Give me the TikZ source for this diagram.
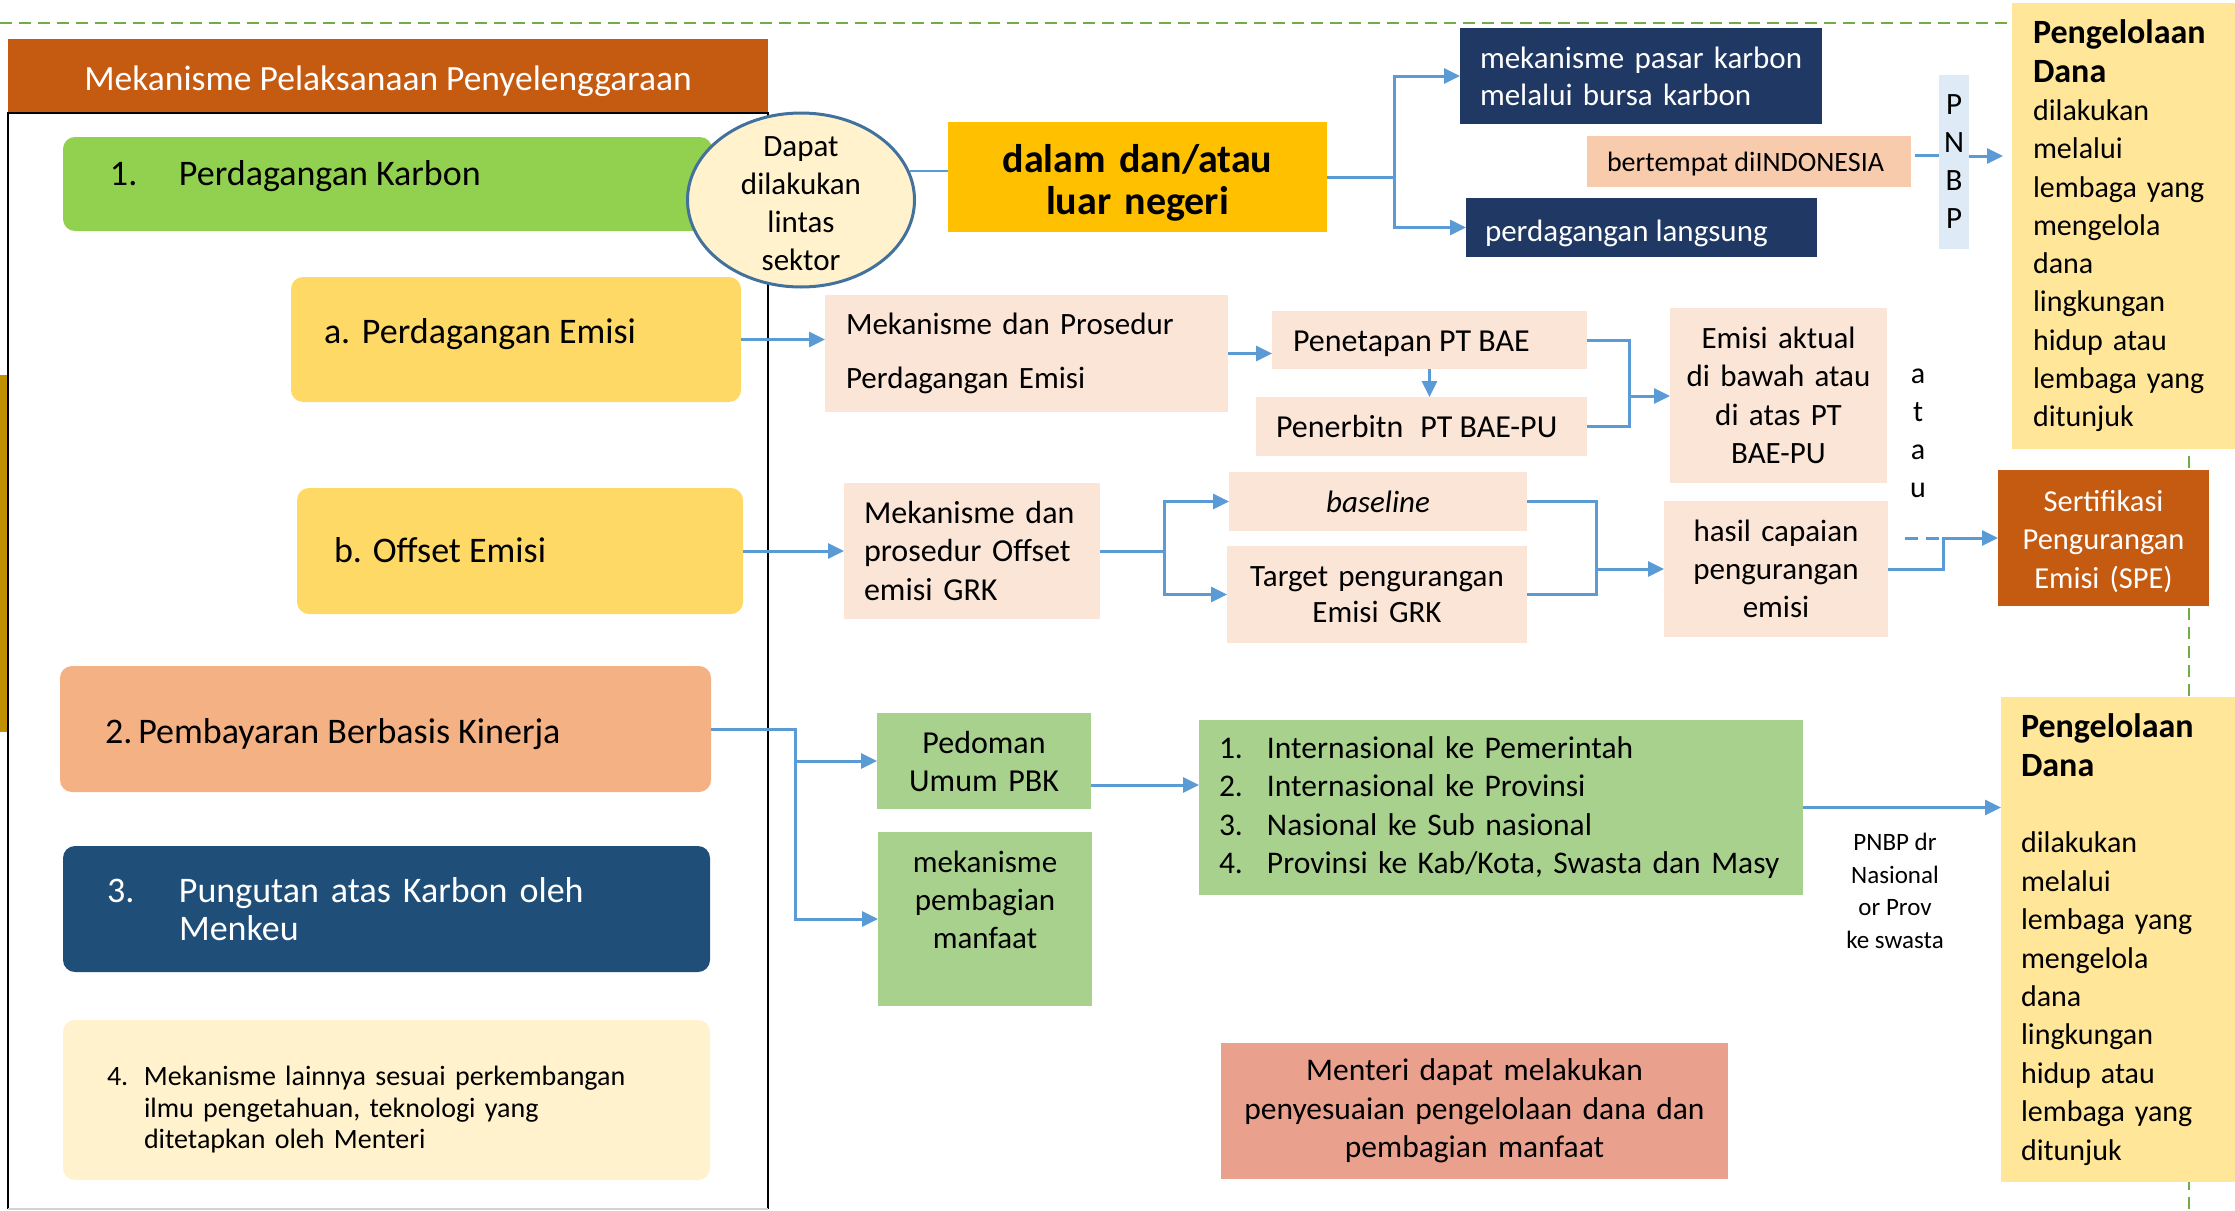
\documentclass[tikz,border=0pt]{standalone}
\usepackage{fontspec}
\setmainfont{Carlito}
\usetikzlibrary{arrows.meta,shapes.geometric}
\definecolor{hdrc}{HTML}{C55A11}
\definecolor{kagreen}{HTML}{92D050}
\definecolor{yelc}{HTML}{FFD966}
\definecolor{ktwoc}{HTML}{F4B183}
\definecolor{kthreec}{HTML}{1F4E79}
\definecolor{creamc}{HTML}{FFF2CC}
\definecolor{ellb}{HTML}{41719C}
\definecolor{amberc}{HTML}{FFC000}
\definecolor{navyc}{HTML}{203864}
\definecolor{peachc}{HTML}{F8CBAD}
\definecolor{pnbpc}{HTML}{DEEBF7}
\definecolor{pdc}{HTML}{FFE699}
\definecolor{skinc}{HTML}{FBE5D6}
\definecolor{grc}{HTML}{A9D18E}
\definecolor{mtrc}{HTML}{E9A18E}
\definecolor{ablue}{HTML}{5B9BD5}
\definecolor{gdc}{HTML}{70AD47}
\definecolor{barc}{HTML}{BF9000}
\newcommand\myfs[2]{\fontsize{#1pt}{#2pt}\selectfont}
\newcommand\myln[4]{\makebox[#1pt][l]{\hspace*{#2pt}\raisebox{#3pt}[0pt][0pt]{#4}}}
\newcommand\mylc[3]{\makebox[#1pt][c]{\raisebox{#2pt}[0pt][0pt]{#3}}}
\begin{document}
\begin{tikzpicture}[x=1pt,y=-1pt,
  bx/.style={anchor=north west, inner sep=0pt, outer sep=0pt},
  rbox/.style={bx, rounded corners=12pt},
  arr/.style={draw=ablue, line width=3pt, -{Triangle[length=16pt,width=15pt]}},
  lnk/.style={draw=ablue, line width=3pt},
  gdash/.style={draw=gdc, line width=2.5pt, dash pattern=on 12pt off 7pt}]
\path[use as bounding box, fill=white] (0,0) rectangle (2235,1210);

% background decorations
\draw[gdash] (0,23) -- (2189,23) -- (2189,1212);
\fill[barc] (0,375) rectangle (8,732);

% header and frame
\node[bx, fill=hdrc, text=white, minimum height=73pt, font=\myfs{35.5}{40}] (hdr) at (8,39)
  {\mylc{760}{-14.5}{Mekanisme Pelaksanaan Penyelenggaraan}};
\draw[line width=2.5pt] (8,1209) -- (8,113) -- (768,113) -- (768,1209);
\draw[gray!35, line width=1.5pt] (8,1209) -- (768,1209);

% left column
\node[rbox, fill=kagreen, minimum height=94pt, font=\myfs{36}{42}] (k1) at (63,137)
  {\myln{649}{47}{-1}{\makebox[69pt][l]{1.}Perdagangan Karbon}};
\node[rbox, fill=yelc, minimum height=125pt, font=\myfs{36}{42}] (ea) at (291,277)
  {\myln{450}{33}{-3.5}{\makebox[38pt][l]{a.}Perdagangan Emisi}};
\node[rbox, fill=yelc, minimum height=126pt, font=\myfs{36}{42}] (eb) at (297,488)
  {\myln{446}{37}{-11}{b. Offset Emisi}};
\node[rbox, fill=ktwoc, minimum height=126pt, font=\myfs{36}{42}] (k2) at (60,666)
  {\myln{651}{45}{-14}{2.\hspace{6pt}Pembayaran Berbasis Kinerja}};
\node[rbox, fill=kthreec, text=white, minimum height=126pt, text width=559pt, inner xsep=44pt, align=left, font=\myfs{36}{38}] (k3) at (63,846)
  {\makebox[72pt][l]{3.}Pungutan atas Karbon oleh\\\hspace*{72pt}Menkeu};
\node[rbox, fill=creamc, minimum height=160pt, text width=559pt, inner xsep=44pt, align=left, font=\myfs{28}{31.5}] (k4) at (63,1020)
  {\mbox{\rule{0pt}{39pt}\makebox[37pt][l]{4.}Mekanisme lainnya sesuai perkembangan}\\\mbox{\hspace*{37pt}ilmu pengetahuan, teknologi yang}\\\mbox{\hspace*{37pt}ditetapkan oleh Menteri}};

% ellipse
\node[ellipse, draw=ellb, fill=creamc, line width=3pt, minimum width=227pt, minimum height=174pt, inner sep=0pt] (ell) at (801,200) {};
\node[align=center, inner sep=0pt, font=\myfs{31}{38}] (ellt) at (801,203.5) {Dapat\\dilakukan\\lintas\\sektor};

% top row
\node[bx, fill=amberc, minimum height=110pt, text width=369pt, inner xsep=5pt, align=center, font=\bfseries\myfs{40}{42}] (dal) at (948,122)
  {\rule{0pt}{39pt}dalam dan/atau\\luar negeri};
\node[bx, fill=navyc, text=white, minimum height=96pt, text width=322pt, inner xsep=20pt, align=left, font=\myfs{31}{37}] (mpk) at (1460,28)
  {\mbox{mekanisme pasar karbon}\\melalui bursa karbon};
\node[bx, fill=peachc, minimum height=51pt, font=\myfs{28}{32}] (bert) at (1587,136)
  {\myln{324}{20}{-9.5}{bertempat diINDONESIA}};
\node[bx, fill=navyc, text=white, minimum height=59pt, font=\myfs{31}{36}] (pl) at (1466,198)
  {\myln{351}{19}{-13.5}{perdagangan langsung}};
\node[bx, fill=pnbpc, minimum width=30pt, minimum height=174pt, align=center, font=\myfs{31}{38}] (pnbp) at (1939,75)
  {P\\N\\B\\P};
\node[bx, fill=pdc, minimum height=446pt, text width=181pt, inner xsep=21pt, align=left, font=\myfs{30}{38.3}] (pdtop) at (2012,3)
  {\textbf{\myfs{34}{38.3}Pengelolaan}\\\textbf{\myfs{34}{38.3}Dana}\\dilakukan\\melalui\\lembaga yang\\mengelola\\dana\\lingkungan\\hidup atau\\lembaga yang\\ditunjuk};

% perdagangan emisi row
\node[bx, fill=skinc, minimum height=117pt, text width=361pt, inner xsep=21pt, align=left, font=\myfs{31}{54}] (mdp) at (825,295)
  {Mekanisme dan Prosedur\\Perdagangan Emisi};
\node[bx, fill=skinc, minimum height=58pt, font=\myfs{32}{38}] (pen) at (1272,311)
  {\myln{315}{21}{-11}{Penetapan PT BAE}};
\node[bx, fill=skinc, minimum height=59pt, font=\myfs{32}{38}] (pnb) at (1256,397)
  {\myln{331}{20}{-10.5}{Penerbitn\hspace{17pt}PT BAE-PU}};
\node[bx, fill=skinc, minimum height=175pt, text width=207pt, inner xsep=5pt, align=center, font=\myfs{31}{38.5}] (emisi) at (1670,308)
  {Emisi aktual\\di bawah atau\\di atas PT\\BAE-PU};
\node[align=center, inner sep=0pt, font=\myfs{30}{38}] (atau) at (1918,433) {a\\t\\a\\u};

% offset row
\node[bx, fill=skinc, minimum height=136pt, text width=216pt, inner xsep=20pt, align=left, font=\myfs{32}{38.5}] (mdo) at (844,483)
  {\mbox{Mekanisme dan}\\\mbox{prosedur Offset}\\emisi GRK};
\node[bx, fill=skinc, minimum height=59pt, font=\itshape\myfs{31}{36}] (bl) at (1229,472)
  {\mylc{298}{-10.5}{baseline}};
\node[bx, fill=skinc, minimum height=97pt, text width=290pt, inner xsep=5pt, align=center, font=\myfs{31}{36}] (tg) at (1227,546)
  {Target pengurangan\\Emisi GRK};
\node[bx, fill=skinc, minimum height=136pt, text width=214pt, inner xsep=5pt, align=center, font=\myfs{31}{38}] (hs) at (1664,501)
  {hasil capaian\\pengurangan\\emisi};
\node[bx, fill=hdrc, text=white, minimum height=136pt, text width=201pt, inner xsep=5pt, align=center, font=\myfs{30.5}{38.5}] (spe) at (1998,470)
  {\rule{0pt}{28pt}Sertifikasi\\Pengurangan\\Emisi (SPE)};

% PBK row
\node[bx, fill=grc, minimum height=96pt, text width=204pt, inner xsep=5pt, align=center, font=\myfs{32}{38}] (ped) at (877,713)
  {Pedoman\\Umum PBK};
\node[bx, fill=grc, minimum height=174pt, text width=204pt, inner xsep=5pt, align=center, font=\myfs{31}{38}] (mpm) at (878,832)
  {mekanisme\\pembagian\\manfaat\\\mbox{}};
\node[bx, fill=grc, minimum height=175pt, text width=564pt, inner xsep=20pt, align=left, font=\myfs{31.5}{38.5}] (lst) at (1199,720)
  {\mbox{\makebox[48pt][l]{1.}Internasional ke Pemerintah}\\\mbox{\makebox[48pt][l]{2.}Internasional ke Provinsi}\\\mbox{\makebox[48pt][l]{3.}Nasional ke Sub nasional}\\\mbox{\makebox[48pt][l]{4.}Provinsi ke Kab/Kota, Swasta dan Masy}};
\node[align=center, inner sep=0pt, font=\myfs{25}{32.5}] (pdr) at (1895,891) {PNBP dr\\Nasional\\or Prov\\ke swasta};
\node[bx, fill=pdc, minimum height=485pt, text width=194pt, inner xsep=20pt, align=left, font=\myfs{30}{38.4}] (pdbot) at (2001,697)
  {\textbf{\myfs{34}{38.4}Pengelolaan}\\\textbf{\myfs{34}{38.4}Dana}\\\mbox{}\\dilakukan\\melalui\\lembaga yang\\mengelola\\dana\\lingkungan\\hidup atau\\lembaga yang\\ditunjuk};
\node[bx, fill=mtrc, minimum height=136pt, text width=497pt, inner xsep=5pt, align=center, font=\myfs{31.5}{38.5}] (mtr) at (1221,1043)
  {Menteri dapat melakukan\\penyesuaian pengelolaan dana dan\\pembagian manfaat};

% junction coordinates
\coordinate (j0) at (1394,0);
\coordinate (j1) at (1629,396);
\coordinate (j2) at (1164,0);
\coordinate (j3) at (1596,569);
\coordinate (j4) at (1943,0);
\coordinate (j5) at (795,0);
\coordinate (pa) at (0,785);
\coordinate (d0) at (1905,538);
\coordinate (bj) at ([yshift=6pt]bert.east);
\coordinate (pj) at ([yshift=6pt]pnbp.east);

% connectors
\draw[draw=ablue, line width=1.5pt] (ell.15) -- (ell.15 -| dal.west);
\draw[arr] (dal.east) -- (j0 |- dal.east) |- (mpk.west);
\draw[arr] (j0 |- dal.east) |- (pl.west);
\draw[lnk, shorten <=4pt] (bj) -- (bj -| pnbp.west);
\draw[arr, shorten >=9pt] (pj) -- (pj -| pdtop.west);

\draw[arr] (ea.east) -- (ea.east -| mdp.west);
\draw[arr] (mdp.east) -- (mdp.east -| pen.west);
\draw[arr] (pen.south) -- (pen.south |- pnb.north);
\draw[lnk] (pen.east) -| (j1) |- (pnb.east);
\draw[arr] (j1) -- (j1 -| emisi.west);

\draw[arr] (eb.east) -- (eb.east -| mdo.west);
\draw[arr] (mdo.east) -- (j2 |- mdo.east) |- (bl.west);
\draw[arr] (j2 |- mdo.east) |- (tg.west);
\draw[lnk] (bl.east) -| (j3) |- (tg.east);
\draw[arr] (j3) -- (j3 -| hs.west);
\draw[arr] (hs.east) -- (j4 |- hs.east) |- (spe.west);
\draw[lnk, dash pattern=on 13pt off 8pt] (d0) -- (d0 -| j4);

\draw[arr] (k2.east) -- (j5 |- k2.east) |- (ped.west);
\draw[arr] (j5 |- k2.east) |- (mpm.west);
\draw[arr] (pa -| ped.east) -- (pa -| lst.west);
\draw[arr] (lst.east) -- (lst.east -| pdbot.west);
\end{tikzpicture}
\end{document}
